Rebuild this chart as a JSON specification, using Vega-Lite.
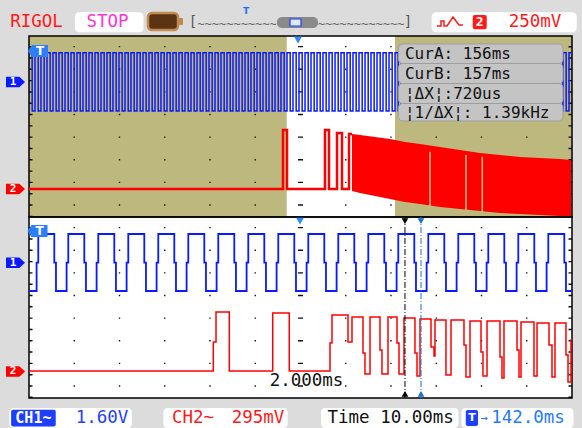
{
 "$schema": "https://vega.github.io/schema/vega-lite/v6.json",
 "width": 543, "height": 362,
 "autosize": {"type": "none"},
 "padding": {"left": 29, "top": 36, "right": 10, "bottom": 30},
 "background": "#dcdcdc",
 "config": {"view": {"fill": "#ffffff", "stroke": null}, "text": {"font": "DejaVu Sans Mono"}},
 "encoding": {
  "x": {"field": "x", "type": "quantitative", "scale": {"domain": [-6, 6], "nice": false, "zero": false}, "axis": null},
  "y": {"field": "y", "type": "quantitative", "scale": {"domain": [-4, 4], "nice": false, "zero": false}, "axis": null}
 },
 "layer": [
  {"data": {"values": [{"x": -6, "x2": -0.305, "y": 0, "y2": 4}, {"x": 2.088, "x2": 6, "y": 0, "y2": 4}]},
   "mark": {"type": "rect", "color": "#bdb97e"}, "encoding": {"x2": {"field": "x2"}, "y2": {"field": "y2"}}},
  {"data": {"values": [{"y": 0.5}, {"y": 1}, {"y": 1.5}, {"y": 2.5}, {"y": 3}, {"y": 3.5}, {"y": -0.5}, {"y": -1}, {"y": -1.5}, {"y": -2.5}, {"y": -3}, {"y": -3.5}]},
   "mark": {"type": "rule", "color": "#111111", "strokeWidth": 1.4, "strokeDash": [1.4, 7.65]}, "encoding": {"x": {"datum": -6}, "x2": {"datum": 6}}},
  {"data": {"values": [{"x": -5, "y": 0.25, "y2": 4}, {"x": -4, "y": 0.25, "y2": 4}, {"x": -3, "y": 0.25, "y2": 4}, {"x": -2, "y": 0.25, "y2": 4}, {"x": -1, "y": 0.25, "y2": 4}, {"x": 1, "y": 0.25, "y2": 4}, {"x": 2, "y": 0.25, "y2": 4}, {"x": 3, "y": 0.25, "y2": 4}, {"x": 4, "y": 0.25, "y2": 4}, {"x": 5, "y": 0.25, "y2": 4},
    {"x": -5, "y": -3.75, "y2": 0}, {"x": -4, "y": -3.75, "y2": 0}, {"x": -3, "y": -3.75, "y2": 0}, {"x": -2, "y": -3.75, "y2": 0}, {"x": -1, "y": -3.75, "y2": 0}, {"x": 1, "y": -3.75, "y2": 0}, {"x": 2, "y": -3.75, "y2": 0}, {"x": 3, "y": -3.75, "y2": 0}, {"x": 4, "y": -3.75, "y2": 0}, {"x": 5, "y": -3.75, "y2": 0}]},
   "mark": {"type": "rule", "color": "#111111", "strokeWidth": 1.4, "strokeDash": [1.4, 21.225]}, "encoding": {"y2": {"field": "y2"}}},
  {"data": {"values": [{"x": 0, "y": 0.25, "y2": 4}, {"x": 0, "y": -3.75, "y2": 0}]},
   "mark": {"type": "rule", "color": "#111111", "strokeWidth": 5, "strokeDash": [1.4, 21.225]}, "encoding": {"y2": {"field": "y2"}}},
  {"data": {"values": [{"y": 2}, {"y": -2}]},
   "mark": {"type": "rule", "color": "#111111", "strokeWidth": 5, "strokeDash": [1.4, 7.65]}, "encoding": {"x": {"datum": -6}, "x2": {"datum": 6}}},
  {"data": {"values": [{"y": 3.961}, {"y": -3.961}]},
   "mark": {"type": "rule", "color": "#111111", "strokeWidth": 3.5, "strokeDash": [1.4, 7.65]}, "encoding": {"x": {"datum": -6}, "x2": {"datum": 6}}},
  {"data": {"values": [{"y": 0}]},
   "mark": {"type": "rule", "color": "#111111", "strokeWidth": 8, "strokeDash": [1.4, 7.65]}, "encoding": {"x": {"datum": -6}, "x2": {"datum": 6}}},
  {"data": {"values": [{"x": -5.961, "y": -4, "y2": 4}, {"x": 5.961, "y": -4, "y2": 4}]},
   "mark": {"type": "rule", "color": "#111111", "strokeWidth": 3.5, "strokeDash": [1.4, 9.91]}, "encoding": {"y2": {"field": "y2"}}},
  {"data": {"values": [{"x": -6, "x2": 6, "y": 0, "y2": 4}, {"x": -6, "x2": 6, "y": -4, "y2": 0}]},
   "mark": {"type": "rect", "filled": false, "stroke": "#000000", "strokeWidth": 1.5}, "encoding": {"x2": {"field": "x2"}, "y2": {"field": "y2"}}},
  {"data": {"values": [{"x": 1.138, "y": 1.834, "y2": 0.575}, {"x": 1.315, "y": 1.812, "y2": 0.53}, {"x": 1.646, "y": 1.768, "y2": 0.464}, {"x": 1.978, "y": 1.724, "y2": 0.398}, {"x": 2.309, "y": 1.657, "y2": 0.331}, {"x": 2.641, "y": 1.613, "y2": 0.287}, {"x": 3.083, "y": 1.547, "y2": 0.221}, {"x": 3.525, "y": 1.481, "y2": 0.177}, {"x": 3.967, "y": 1.414, "y2": 0.133}, {"x": 4.409, "y": 1.37, "y2": 0.088}, {"x": 4.851, "y": 1.326, "y2": 0.066}, {"x": 5.293, "y": 1.304, "y2": 0.044}, {"x": 5.735, "y": 1.282, "y2": 0.022}, {"x": 5.978, "y": 1.26, "y2": 0.022}]},
   "mark": {"type": "area", "interpolate": "linear", "color": "#ff0000"}, "encoding": {"y2": {"field": "y2"}}},
  {"data": {"values": [{"x": 2.862, "y": 0.192, "y2": 1.443}, {"x": 3.657, "y": 0.117, "y2": 1.37}, {"x": 4.018, "y": 0.082, "y2": 1.333}]},
   "mark": {"type": "rule", "color": "#c4bf86", "strokeWidth": 1.5}, "encoding": {"y2": {"field": "y2"}}},
  {"data": {"values": [{"x": -6, "y": 0.619}, {"x": -0.387, "y": 1.923}, {"x": -0.298, "y": 0.619}, {"x": 0.541, "y": 1.923}, {"x": 0.63, "y": 0.619}, {"x": 0.807, "y": 1.856}, {"x": 0.917, "y": 0.619}, {"x": 1.072, "y": 1.834}, {"x": 1.138, "y": 1.834}]},
   "mark": {"type": "line", "interpolate": "step-after", "color": "#ff0000", "strokeWidth": 2.5}},
  {"data": {"values": [
    {"x": -6.0, "y": 3.631}, {"x": -5.93, "y": 2.343}, {"x": -5.867, "y": 3.631}, {"x": -5.797, "y": 2.343}, {"x": -5.735, "y": 3.631}, {"x": -5.665, "y": 2.343},
    {"x": -5.602, "y": 3.631}, {"x": -5.532, "y": 2.343}, {"x": -5.47, "y": 3.631}, {"x": -5.4, "y": 2.343}, {"x": -5.337, "y": 3.631}, {"x": -5.267, "y": 2.343},
    {"x": -5.204, "y": 3.631}, {"x": -5.134, "y": 2.343}, {"x": -5.072, "y": 3.631}, {"x": -5.002, "y": 2.343}, {"x": -4.939, "y": 3.631}, {"x": -4.869, "y": 2.343},
    {"x": -4.807, "y": 3.631}, {"x": -4.737, "y": 2.343}, {"x": -4.674, "y": 3.631}, {"x": -4.604, "y": 2.343}, {"x": -4.541, "y": 3.631}, {"x": -4.471, "y": 2.343},
    {"x": -4.409, "y": 3.631}, {"x": -4.339, "y": 2.343}, {"x": -4.276, "y": 3.631}, {"x": -4.206, "y": 2.343}, {"x": -4.144, "y": 3.631}, {"x": -4.074, "y": 2.343},
    {"x": -4.011, "y": 3.631}, {"x": -3.941, "y": 2.343}, {"x": -3.878, "y": 3.631}, {"x": -3.808, "y": 2.343}, {"x": -3.746, "y": 3.631}, {"x": -3.676, "y": 2.343},
    {"x": -3.613, "y": 3.631}, {"x": -3.543, "y": 2.343}, {"x": -3.481, "y": 3.631}, {"x": -3.411, "y": 2.343}, {"x": -3.348, "y": 3.631}, {"x": -3.278, "y": 2.343},
    {"x": -3.215, "y": 3.631}, {"x": -3.145, "y": 2.343}, {"x": -3.083, "y": 3.631}, {"x": -3.013, "y": 2.343}, {"x": -2.95, "y": 3.631}, {"x": -2.88, "y": 2.343},
    {"x": -2.818, "y": 3.631}, {"x": -2.748, "y": 2.343}, {"x": -2.685, "y": 3.631}, {"x": -2.615, "y": 2.343}, {"x": -2.552, "y": 3.631}, {"x": -2.482, "y": 2.343},
    {"x": -2.42, "y": 3.631}, {"x": -2.35, "y": 2.343}, {"x": -2.287, "y": 3.631}, {"x": -2.217, "y": 2.343}, {"x": -2.155, "y": 3.631}, {"x": -2.085, "y": 2.343},
    {"x": -2.022, "y": 3.631}, {"x": -1.952, "y": 2.343}, {"x": -1.889, "y": 3.631}, {"x": -1.819, "y": 2.343}, {"x": -1.757, "y": 3.631}, {"x": -1.687, "y": 2.343},
    {"x": -1.624, "y": 3.631}, {"x": -1.554, "y": 2.343}, {"x": -1.492, "y": 3.631}, {"x": -1.422, "y": 2.343}, {"x": -1.359, "y": 3.631}, {"x": -1.289, "y": 2.343},
    {"x": -1.226, "y": 3.631}, {"x": -1.156, "y": 2.343}, {"x": -1.094, "y": 3.631}, {"x": -1.024, "y": 2.343}, {"x": -0.961, "y": 3.631}, {"x": -0.891, "y": 2.343},
    {"x": -0.829, "y": 3.631}, {"x": -0.759, "y": 2.343}, {"x": -0.696, "y": 3.631}, {"x": -0.626, "y": 2.343}, {"x": -0.563, "y": 3.631}, {"x": -0.493, "y": 2.343},
    {"x": -0.431, "y": 3.631}, {"x": -0.361, "y": 2.343}, {"x": -0.298, "y": 3.631}, {"x": -0.228, "y": 2.343}, {"x": -0.166, "y": 3.631}, {"x": -0.096, "y": 2.343},
    {"x": -0.033, "y": 3.631}, {"x": 0.037, "y": 2.343}, {"x": 0.1, "y": 3.631}, {"x": 0.17, "y": 2.343}, {"x": 0.232, "y": 3.631}, {"x": 0.302, "y": 2.343},
    {"x": 0.365, "y": 3.631}, {"x": 0.435, "y": 2.343}, {"x": 0.497, "y": 3.631}, {"x": 0.567, "y": 2.343}, {"x": 0.63, "y": 3.631}, {"x": 0.7, "y": 2.343},
    {"x": 0.763, "y": 3.631}, {"x": 0.833, "y": 2.343}, {"x": 0.895, "y": 3.631}, {"x": 0.965, "y": 2.343}, {"x": 1.028, "y": 3.631}, {"x": 1.098, "y": 2.343},
    {"x": 1.16, "y": 3.631}, {"x": 1.23, "y": 2.343}, {"x": 1.293, "y": 3.631}, {"x": 1.363, "y": 2.343}, {"x": 1.426, "y": 3.631}, {"x": 1.496, "y": 2.343},
    {"x": 1.558, "y": 3.631}, {"x": 1.628, "y": 2.343}, {"x": 1.691, "y": 3.631}, {"x": 1.761, "y": 2.343}, {"x": 1.823, "y": 3.631}, {"x": 1.893, "y": 2.343},
    {"x": 1.956, "y": 3.631}, {"x": 2.026, "y": 2.343}, {"x": 2.089, "y": 3.631}, {"x": 2.159, "y": 2.343}, {"x": 2.221, "y": 3.631}, {"x": 2.291, "y": 2.343},
    {"x": 5.801, "y": 3.631}, {"x": 5.871, "y": 2.343}, {"x": 5.934, "y": 3.631}, {"x": 6.0, "y": 3.631}]},
   "mark": {"type": "line", "interpolate": "step-after", "color": "#0a1aff", "strokeWidth": 1.5}},
  {"data": {"values": [
    {"x": -6, "y": -1.635},
    {"x": -5.832, "y": -1.01}, {"x": -5.795, "y": -0.376}, {"x": -5.441, "y": -1.01}, {"x": -5.404, "y": -1.635},
    {"x": -5.169, "y": -1.01}, {"x": -5.132, "y": -0.376}, {"x": -4.778, "y": -1.01}, {"x": -4.741, "y": -1.635},
    {"x": -4.506, "y": -1.01}, {"x": -4.469, "y": -0.376}, {"x": -4.115, "y": -1.01}, {"x": -4.078, "y": -1.635},
    {"x": -3.843, "y": -1.01}, {"x": -3.806, "y": -0.376}, {"x": -3.452, "y": -1.01}, {"x": -3.415, "y": -1.635},
    {"x": -3.18, "y": -1.01}, {"x": -3.143, "y": -0.376}, {"x": -2.789, "y": -1.01}, {"x": -2.752, "y": -1.635},
    {"x": -2.517, "y": -1.01}, {"x": -2.48, "y": -0.376}, {"x": -2.126, "y": -1.01}, {"x": -2.089, "y": -1.635},
    {"x": -1.854, "y": -1.01}, {"x": -1.817, "y": -0.376}, {"x": -1.463, "y": -1.01}, {"x": -1.426, "y": -1.635},
    {"x": -1.191, "y": -1.01}, {"x": -1.154, "y": -0.376}, {"x": -0.8, "y": -1.01}, {"x": -0.763, "y": -1.635},
    {"x": -0.528, "y": -1.01}, {"x": -0.491, "y": -0.376}, {"x": -0.137, "y": -1.01}, {"x": -0.1, "y": -1.635},
    {"x": 0.135, "y": -1.01}, {"x": 0.172, "y": -0.376}, {"x": 0.526, "y": -1.01}, {"x": 0.563, "y": -1.635},
    {"x": 0.798, "y": -1.01}, {"x": 0.835, "y": -0.376}, {"x": 1.189, "y": -1.01}, {"x": 1.226, "y": -1.635},
    {"x": 1.461, "y": -1.01}, {"x": 1.498, "y": -0.376}, {"x": 1.852, "y": -1.01}, {"x": 1.889, "y": -1.635},
    {"x": 2.124, "y": -1.01}, {"x": 2.161, "y": -0.376}, {"x": 2.515, "y": -1.01}, {"x": 2.552, "y": -1.635},
    {"x": 2.787, "y": -1.01}, {"x": 2.824, "y": -0.376}, {"x": 3.178, "y": -1.01}, {"x": 3.215, "y": -1.635},
    {"x": 3.45, "y": -1.01}, {"x": 3.487, "y": -0.376}, {"x": 3.841, "y": -1.01}, {"x": 3.878, "y": -1.635},
    {"x": 4.113, "y": -1.01}, {"x": 4.15, "y": -0.376}, {"x": 4.504, "y": -1.01}, {"x": 4.541, "y": -1.635},
    {"x": 4.776, "y": -1.01}, {"x": 4.813, "y": -0.376}, {"x": 5.167, "y": -1.01}, {"x": 5.204, "y": -1.635},
    {"x": 5.439, "y": -1.01}, {"x": 5.476, "y": -0.376}, {"x": 5.83, "y": -1.01}, {"x": 5.867, "y": -1.635},
    {"x": 6, "y": -1.635}]},
   "mark": {"type": "line", "interpolate": "step-after", "color": "#0a1aff", "strokeWidth": 1.8}},
  {"data": {"values": [{"x": -6, "y": -3.403}, {"x": -1.927, "y": -2.762}, {"x": -1.867, "y": -2.099}, {"x": -1.573, "y": -3.403}, {"x": -0.614, "y": -2.122}, {"x": -0.248, "y": -3.403}, {"x": 0.652, "y": -2.785}, {"x": 0.696, "y": -2.166}, {"x": 1.05, "y": -2.762}, {"x": 1.138, "y": -2.21}, {"x": 1.381, "y": -3.006}, {"x": 1.425, "y": -3.47}, {"x": 1.536, "y": -2.21}, {"x": 1.757, "y": -2.939}, {"x": 1.801, "y": -3.47}, {"x": 1.934, "y": -2.21}, {"x": 2.133, "y": -2.785}, {"x": 2.177, "y": -3.47}, {"x": 2.287, "y": -2.232}, {"x": 2.53, "y": -3.006}, {"x": 2.575, "y": -3.514}, {"x": 2.641, "y": -2.254}, {"x": 2.884, "y": -2.873}, {"x": 2.95, "y": -3.072}, {"x": 2.972, "y": -2.276}, {"x": 3.215, "y": -3.492}, {"x": 3.326, "y": -2.276}, {"x": 3.613, "y": -2.829}, {"x": 3.657, "y": -3.536}, {"x": 3.746, "y": -2.298}, {"x": 3.989, "y": -2.983}, {"x": 4.033, "y": -3.514}, {"x": 4.122, "y": -2.298}, {"x": 4.409, "y": -3.094}, {"x": 4.453, "y": -3.558}, {"x": 4.497, "y": -2.298}, {"x": 4.785, "y": -2.939}, {"x": 4.829, "y": -3.536}, {"x": 4.873, "y": -2.32}, {"x": 5.16, "y": -3.514}, {"x": 5.227, "y": -2.343}, {"x": 5.492, "y": -2.829}, {"x": 5.558, "y": -3.536}, {"x": 5.624, "y": -2.343}, {"x": 5.867, "y": -3.05}, {"x": 5.912, "y": -3.646}, {"x": 5.978, "y": -2.718}, {"x": 6.0, "y": -2.718}]},
   "mark": {"type": "line", "interpolate": "step-after", "color": "#ff0000", "strokeWidth": 1.5}},
  {"data": {"values": [{"x": 2.309, "y": -4, "y2": 0}]},
   "mark": {"type": "rule", "color": "#000000", "strokeWidth": 1, "strokeDash": [6, 2, 1, 2]}, "encoding": {"y2": {"field": "y2"}}},
  {"data": {"values": [{"x": 2.663, "y": -4, "y2": 0}]},
   "mark": {"type": "rule", "color": "#1f6fd0", "strokeWidth": 1, "strokeDash": [6, 2, 1, 2]}, "encoding": {"y2": {"field": "y2"}}},
  {"data": {"values": [{"x": 2.309, "y": -0.09, "s": "down"}, {"x": 2.309, "y": -3.91, "s": "up"}]},
   "mark": {"type": "point", "filled": true, "size": 45, "color": "#000000", "opacity": 1},
   "encoding": {"shape": {"field": "s", "type": "nominal", "scale": {"domain": ["down", "up"], "range": ["triangle-down", "triangle-up"]}, "legend": null}}},
  {"data": {"values": [{"x": 2.663, "y": -0.09, "s": "down"}, {"x": 2.663, "y": -3.91, "s": "up"}]},
   "mark": {"type": "point", "filled": true, "size": 45, "color": "#1f6fd0", "opacity": 1},
   "encoding": {"shape": {"field": "s", "type": "nominal", "scale": {"domain": ["down", "up"], "range": ["triangle-down", "triangle-up"]}, "legend": null}}},
  {"data": {"values": [{"x": -0.055, "y": 3.91}, {"x": -0.011, "y": -0.09}]},
   "mark": {"type": "point", "shape": "triangle-down", "filled": true, "size": 60, "color": "#2a8cff", "opacity": 1}},
  {"data": {"values": [{"x": -5.801, "y": 3.668}, {"x": -5.812, "y": -0.309}]},
   "mark": {"type": "point", "shape": "M-1,0L-0.6,-0.6L1,-0.6L1,0.6L-0.6,0.6Z", "filled": true, "size": 400, "color": "#2d7ff9", "opacity": 1}},
  {"data": {"values": [{"x": -5.757, "y": 3.668, "t": "T"}, {"x": -5.768, "y": -0.309, "t": "T"}]},
   "mark": {"type": "text", "fontSize": 12, "fontWeight": "bold", "color": "#ffffff", "align": "center", "baseline": "middle", "font": "DejaVu Sans"},
   "encoding": {"text": {"field": "t"}}},
  {"data": {"values": [{"x": 2.166, "x2": 5.801, "y": 3.823, "y2": 3.392}, {"x": 2.166, "x2": 5.801, "y": 3.392, "y2": 2.95}, {"x": 2.166, "x2": 5.801, "y": 2.95, "y2": 2.508}, {"x": 2.166, "x2": 5.801, "y": 2.508, "y2": 2.122}]},
   "mark": {"type": "rect", "color": "#c4c4c4", "stroke": "#9e9e9e", "strokeWidth": 1, "cornerRadius": 4},
   "encoding": {"x2": {"field": "x2"}, "y2": {"field": "y2"}}},
  {"data": {"values": [{"x": 2.309, "y": 3.613, "t": "CurA: 156ms"}, {"x": 2.309, "y": 3.171, "t": "CurB: 157ms"}, {"x": 2.309, "y": 2.729, "t": "¦ΔX¦:720us"}, {"x": 2.309, "y": 2.298, "t": "¦1/ΔX¦: 1.39kHz"}]},
   "mark": {"type": "text", "fontSize": 16, "color": "#111111", "align": "left", "baseline": "middle"},
   "encoding": {"text": {"field": "t"}}},
  {"data": {"values": [{"x": 0.133, "y": -3.624, "t": "2.000ms"}]},
   "mark": {"type": "text", "fontSize": 17.5, "color": "#111111", "align": "center", "baseline": "middle"},
   "encoding": {"text": {"field": "t"}}},
  {"data": {"values": [{"x": -6.298, "y": 2.983}, {"x": -6.298, "y": -1.01}]},
   "mark": {"type": "point", "shape": "M-1,-0.55L0.4,-0.55L1,0L0.4,0.55L-1,0.55Z", "filled": true, "size": 361, "color": "#0a1aff", "opacity": 1}},
  {"data": {"values": [{"x": -6.298, "y": 0.619}, {"x": -6.298, "y": -3.414}]},
   "mark": {"type": "point", "shape": "M-1,-0.55L0.4,-0.55L1,0L0.4,0.55L-1,0.55Z", "filled": true, "size": 361, "color": "#ff0000", "opacity": 1}},
  {"data": {"values": [{"x": -6.354, "y": 2.983, "t": "1"}, {"x": -6.354, "y": -1.01, "t": "1"}, {"x": -6.354, "y": 0.619, "t": "2"}, {"x": -6.354, "y": -3.414, "t": "2"}]},
   "mark": {"type": "text", "fontSize": 11, "fontWeight": "bold", "color": "#ffffff", "align": "center", "baseline": "middle"},
   "encoding": {"text": {"field": "t"}}},
  {"data": {"values": [{"x": -4.983, "x2": -3.47, "y": 4.523, "y2": 4.081}, {"x": 2.899, "x2": 6.104, "y": 4.523, "y2": 4.081},
    {"x": -6.436, "x2": -3.728, "y": -4.221, "y2": -4.663}, {"x": -3.032, "x2": -0.283, "y": -4.221, "y2": -4.663}, {"x": 0.453, "x2": 3.49, "y": -4.221, "y2": -4.663}, {"x": 3.556, "x2": 6.033, "y": -4.221, "y2": -4.663}]},
   "mark": {"type": "rect", "color": "#ffffff", "cornerRadius": 4},
   "encoding": {"x2": {"field": "x2"}, "y2": {"field": "y2"}}},
  {"data": {"values": [{"x": -5.834, "y": 4.32, "t": "RIGOL"}, {"x": 5.182, "y": 4.32, "t": "250mV"}, {"x": -2.376, "y": -4.442, "t": "CH2~"}, {"x": -0.939, "y": -4.442, "t": "295mV"}]},
   "mark": {"type": "text", "fontSize": 17.5, "color": "#ff1a1a", "align": "center", "baseline": "middle"},
   "encoding": {"text": {"field": "t"}}},
  {"data": {"values": [{"x": -4.265, "y": 4.32, "t": "STOP"}]},
   "mark": {"type": "text", "fontSize": 17.5, "color": "#ff33d6", "align": "center", "baseline": "middle"},
   "encoding": {"text": {"field": "t"}}},
  {"data": {"values": [{"x": -3.37, "x2": -2.707, "y": 4.508, "y2": 4.133}]},
   "mark": {"type": "rect", "color": "#5b3414", "stroke": "#c08a50", "strokeWidth": 2.5, "cornerRadius": 4},
   "encoding": {"x2": {"field": "x2"}, "y2": {"field": "y2"}}},
  {"data": {"values": [{"x": -2.69, "x2": -2.597, "y": 4.398, "y2": 4.243}]},
   "mark": {"type": "rect", "color": "#c08a50", "cornerRadius": 1},
   "encoding": {"x2": {"field": "x2"}, "y2": {"field": "y2"}}},
  {"data": {"values": [{"x": -1.403, "y": 4.27, "t": "~~~~~~~~~~~"}, {"x": 1.337, "y": 4.27, "t": "~~~~~~~~~~~~"}]},
   "mark": {"type": "text", "fontSize": 12, "color": "#666666", "align": "center", "baseline": "middle"},
   "encoding": {"text": {"field": "t"}}},
  {"data": {"values": [{"x": -2.376, "y": 4.3, "t": "["}, {"x": 2.376, "y": 4.3, "t": "]"}]},
   "mark": {"type": "text", "fontSize": 14, "color": "#555555", "align": "center", "baseline": "middle"},
   "encoding": {"text": {"field": "t"}}},
  {"data": {"values": [{"x": -0.519, "x2": 0.387, "y": 4.42, "y2": 4.177}]},
   "mark": {"type": "rect", "color": "#8a8a8a", "cornerRadius": 5},
   "encoding": {"x2": {"field": "x2"}, "y2": {"field": "y2"}}},
  {"data": {"values": [{"x": -0.232, "x2": 0.011, "y": 4.376, "y2": 4.221}]},
   "mark": {"type": "rect", "color": "#dde8ff", "stroke": "#2040ff", "strokeWidth": 1.2},
   "encoding": {"x2": {"field": "x2"}, "y2": {"field": "y2"}}},
  {"data": {"values": [{"x": -1.204, "y": 4.56, "t": "T"}]},
   "mark": {"type": "text", "fontSize": 9, "fontWeight": "bold", "color": "#1f6fff", "align": "center", "baseline": "middle", "font": "DejaVu Sans"},
   "encoding": {"text": {"field": "t"}}},
  {"data": {"values": [{"i": 0, "x": 3.017, "y": 4.221}, {"i": 1, "x": 3.105, "y": 4.221}, {"i": 2, "x": 3.105, "y": 4.331}, {"i": 3, "x": 3.171, "y": 4.331}, {"i": 4, "x": 3.171, "y": 4.221}, {"i": 5, "x": 3.238, "y": 4.221}, {"i": 6, "x": 3.37, "y": 4.42}, {"i": 7, "x": 3.503, "y": 4.243}, {"i": 8, "x": 3.591, "y": 4.243}]},
   "mark": {"type": "line", "color": "#ff1a1a", "strokeWidth": 1.5},
   "encoding": {"order": {"field": "i", "type": "quantitative"}}},
  {"data": {"values": [{"x": 3.806, "x2": 4.116, "y": 4.464, "y2": 4.148}]},
   "mark": {"type": "rect", "color": "#ff1a1a", "cornerRadius": 2},
   "encoding": {"x2": {"field": "x2"}, "y2": {"field": "y2"}}},
  {"data": {"values": [{"x": 3.96, "y": 4.306, "t": "2"}]},
   "mark": {"type": "text", "fontSize": 13, "fontWeight": "bold", "color": "#ffffff", "align": "center", "baseline": "middle"},
   "encoding": {"text": {"field": "t"}}},
  {"data": {"values": [{"x": -6.395, "x2": -5.409, "y": -4.261, "y2": -4.63}, {"x": 3.653, "x2": 3.923, "y": -4.265, "y2": -4.619}]},
   "mark": {"type": "rect", "color": "#1f3fff", "cornerRadius": 2},
   "encoding": {"x2": {"field": "x2"}, "y2": {"field": "y2"}}},
  {"data": {"values": [{"x": -5.903, "y": -4.442, "t": "CH1~"}]},
   "mark": {"type": "text", "fontSize": 15, "fontWeight": "bold", "color": "#ffffff", "align": "center", "baseline": "middle"},
   "encoding": {"text": {"field": "t"}}},
  {"data": {"values": [{"x": 3.79, "y": -4.442, "t": "T"}]},
   "mark": {"type": "text", "fontSize": 11, "fontWeight": "bold", "color": "#ffffff", "align": "center", "baseline": "middle", "font": "DejaVu Sans"},
   "encoding": {"text": {"field": "t"}}},
  {"data": {"values": [{"x": -4.387, "y": -4.442, "t": "1.60V"}]},
   "mark": {"type": "text", "fontSize": 17.5, "color": "#1f3fff", "align": "center", "baseline": "middle"},
   "encoding": {"text": {"field": "t"}}},
  {"data": {"values": [{"x": 1.993, "y": -4.442, "t": "Time 10.00ms"}]},
   "mark": {"type": "text", "fontSize": 17.5, "color": "#111111", "align": "center", "baseline": "middle"},
   "encoding": {"text": {"field": "t"}}},
  {"data": {"values": [{"x": 4.055, "y": -4.442, "t": "→"}]},
   "mark": {"type": "text", "fontSize": 12, "color": "#1e7bff", "align": "center", "baseline": "middle"},
   "encoding": {"text": {"field": "t"}}},
  {"data": {"values": [{"x": 5.028, "y": -4.442, "t": "142.0ms"}]},
   "mark": {"type": "text", "fontSize": 17.5, "color": "#1e7bff", "align": "center", "baseline": "middle"},
   "encoding": {"text": {"field": "t"}}}
 ]
}
